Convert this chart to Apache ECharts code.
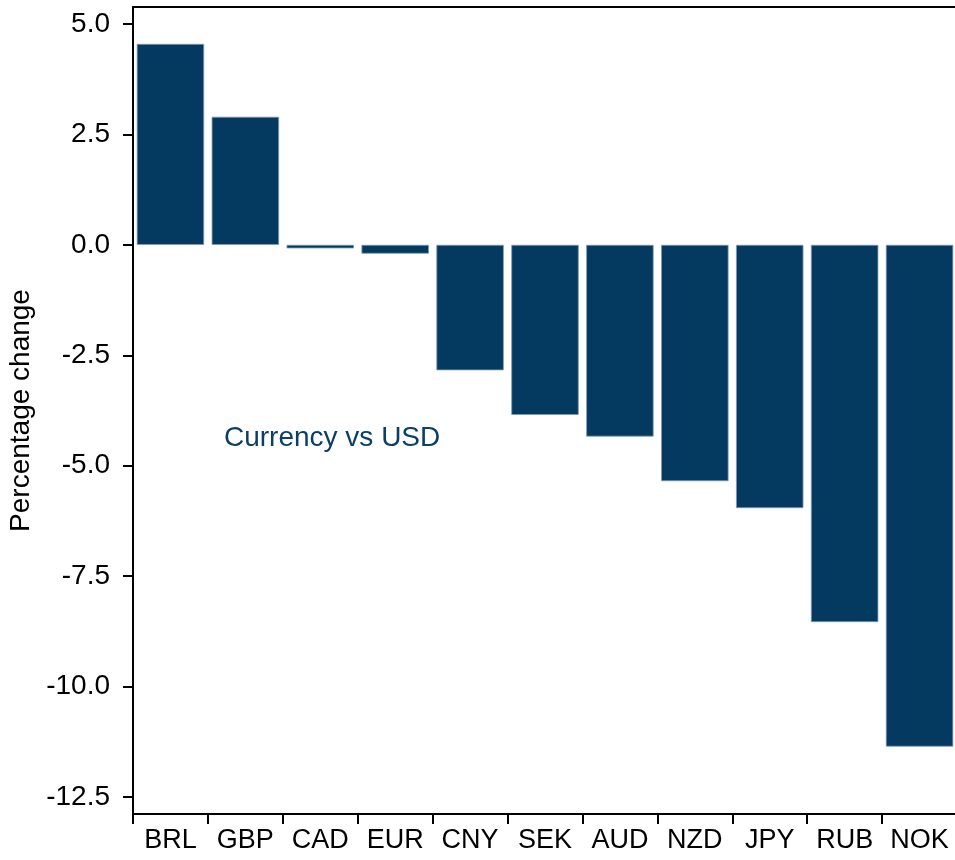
<!DOCTYPE html>
<html>
<head>
<meta charset="utf-8">
<script src="https://cdn.jsdelivr.net/npm/echarts@6/dist/echarts.min.js"></script>
<style>
    html, body {margin: 0; padding: 0; background: #fff;}
    #main {width: 955px; height: 860px;}
</style>
</head>
<body>
<div id="main"></div>
<script>
//货币列表与涨跌幅
var currencies = ['BRL', 'GBP', 'CAD', 'EUR', 'CNY', 'SEK', 'AUD', 'NZD', 'JPY', 'RUB', 'NOK'];
var pctChange = [4.55, 2.90, -0.08, -0.20, -2.84, -3.85, -4.34, -5.35, -5.96, -8.54, -11.36];
var yTicks = [-12.5, -10.0, -7.5, -5.0, -2.5, 0.0, 2.5, 5.0];
var yMin = -12.885;
var yMax = 5.385;

var barColor = '#053a60';
var fontFamily = '"Liberation Sans", Arial, sans-serif';

var chart = echarts.init(document.getElementById('main'));

var option = {
    animation: false,
    backgroundColor: '#fff',
    grid: {
        left: 133,
        width: 824,
        top: 7,
        bottom: 46,
        show: false,
        outerBoundsMode: 'none'
    },
    xAxis: [
        {
            type: 'category',
            data: currencies,
            boundaryGap: true,
            position: 'bottom',
            axisLine: {onZero: false, lineStyle: {color: '#000', width: 2}},
            axisTick: {show: true, length: 10, alignWithLabel: false, lineStyle: {color: '#000', width: 2}},
            axisLabel: {color: '#000', fontSize: 27, fontFamily: fontFamily, margin: 13, interval: 0},
            splitLine: {show: false}
        },
        {
            // 顶部边框线
            type: 'category',
            data: currencies,
            position: 'top',
            axisLine: {onZero: false, lineStyle: {color: '#000', width: 2}},
            axisTick: {show: false},
            axisLabel: {show: false},
            splitLine: {show: false}
        }
    ],
    yAxis: {
        type: 'value',
        min: yMin,
        max: yMax,
        name: 'Percentage change',
        nameLocation: 'middle',
        nameGap: 84,
        nameRotate: 90,
        nameTextStyle: {color: '#000', fontSize: 28, fontFamily: fontFamily},
        axisLine: {show: true, lineStyle: {color: '#000', width: 2}},
        axisTick: {show: true, length: 10, customValues: yTicks, lineStyle: {color: '#000', width: 2}},
        axisLabel: {
            color: '#000',
            fontSize: 28,
            fontFamily: fontFamily,
            margin: 23,
            customValues: yTicks,
            formatter: function (v) {
                return v.toFixed(1);
            }
        },
        splitLine: {show: false}
    },
    graphic: [
        {
            type: 'text',
            left: 224,
            top: 424,
            style: {
                text: 'Currency vs USD',
                fill: '#0b3f66',
                fontSize: 28,
                fontFamily: fontFamily
            }
        }
    ],
    series: [
        {
            type: 'bar',
            xAxisIndex: 0,
            data: pctChange,
            barCategoryGap: '10%',
            itemStyle: {
                color: barColor,
                borderColor: '#7d99b3',
                borderWidth: 0.8
            }
        }
    ]
};

chart.setOption(option);
</script>
</body>
</html>
